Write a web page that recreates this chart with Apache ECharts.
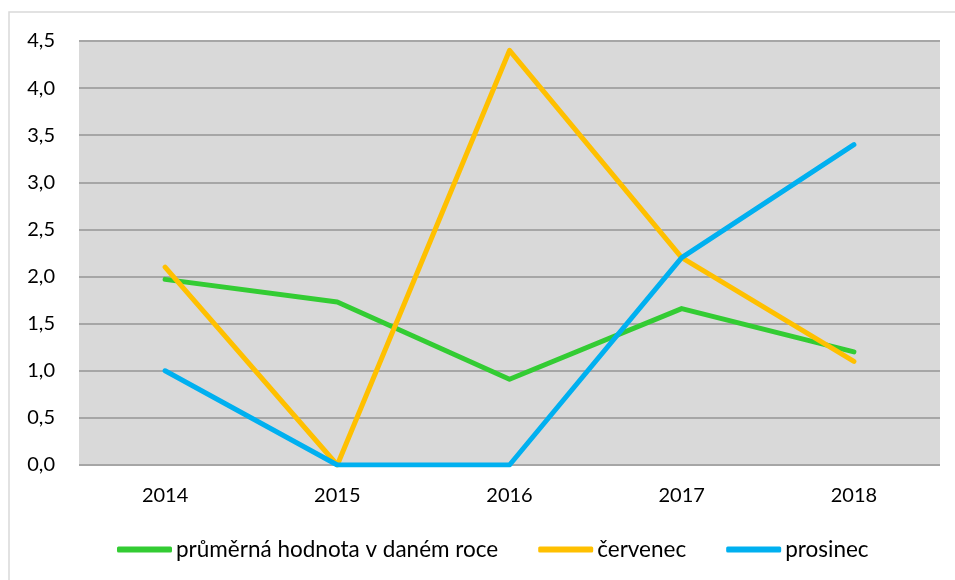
<!DOCTYPE html>
<html lang="cs" style="height: 100%">
<head>
  <meta charset="UTF-8">
  <title>line chart</title>
</head>
<body style="height: 100%; margin: 0; background: #fff">
<div id="container" style="width: 955px; height: 580px"></div>
<script type="text/javascript" src="https://cdn.jsdelivr.net/npm/echarts@6/dist/echarts.min.js"></script>
<script type="text/javascript">
  var years = ['2014', '2015', '2016', '2017', '2018'];
  var prumer = [1.97, 1.73, 0.91, 1.66, 1.20];
  var cervenec = [2.10, 0.0, 4.40, 2.20, 1.10];
  var prosinec = [1.0, 0.0, 0.0, 2.20, 3.40];

  var dom = document.getElementById('container');
  var myChart = echarts.init(dom, null, { renderer: 'canvas' });
  var font = 'Lato, "Open Sans", sans-serif';

  function line(name, data, color) {
    return {
      name: name,
      type: 'line',
      data: data,
      showSymbol: false,
      symbol: 'none',
      lineStyle: { color: color, width: 5, cap: 'round', join: 'round' },
      itemStyle: { color: color },
      animation: false
    };
  }

  var option = {
    backgroundColor: '#fff',
    animation: false,
    graphic: [{
      type: 'rect',
      shape: { x: 9, y: 12, width: 960, height: 600 },
      style: { fill: null, stroke: '#d9d9d9', lineWidth: 1.5 },
      silent: true
    }],
    grid: {
      left: 79, right: 15, top: 41, bottom: 115,
      show: true, backgroundColor: '#d9d9d9', borderWidth: 0
    },
    legend: {
      bottom: 14,
      left: 112,
      itemWidth: 55,
      itemHeight: 6,
      itemGap: 40,
      icon: 'roundRect',
      textStyle: { fontFamily: font, fontSize: 22.5, color: '#000', padding: [0, 0, 0, -1] },
      data: ['průměrná hodnota v daném roce', 'červenec', 'prosinec']
    },
    xAxis: {
      type: 'category',
      data: years,
      boundaryGap: true,
      axisLine: { show: false },
      axisTick: { show: false },
      axisLabel: { fontFamily: font, fontSize: 20, color: '#000', margin: 21 }
    },
    yAxis: {
      type: 'value',
      min: 0, max: 4.5, interval: 0.5,
      axisLine: { show: false },
      axisTick: { show: false },
      splitLine: { lineStyle: { color: '#a6a6a6', width: 2 } },
      axisLabel: {
        fontFamily: font, fontSize: 20, color: '#000', margin: 24,
        formatter: function (v) { return v.toFixed(1).replace('.', ','); }
      }
    },
    series: [
      line('průměrná hodnota v daném roce', prumer, '#33cc33'),
      line('červenec', cervenec, '#ffc000'),
      line('prosinec', prosinec, '#00b0f0')
    ]
  };
  myChart.setOption(option);
  window.addEventListener('resize', myChart.resize);
</script>
</body>
</html>
